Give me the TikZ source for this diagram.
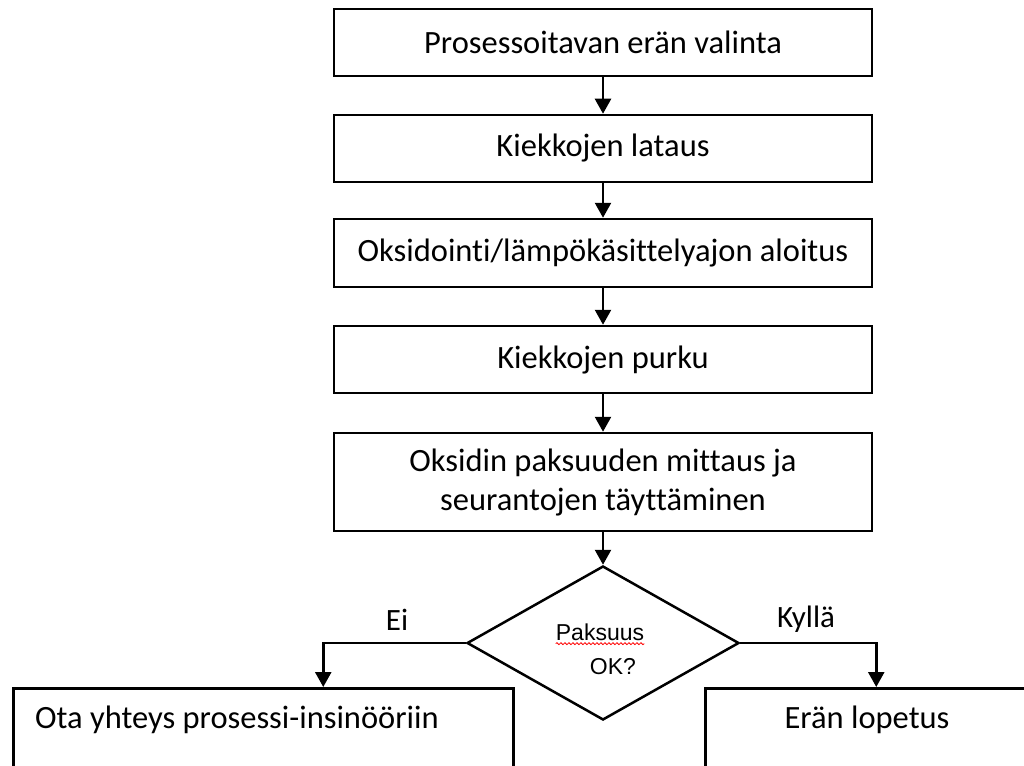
\documentclass[tikz,border=0pt]{standalone}
\usepackage{fontspec}
\setmainfont{Carlito}[Ligatures=NoCommon]
\newfontfamily\arialf{Liberation Sans}
\usetikzlibrary{arrows.meta,shapes.geometric,decorations.pathmorphing}
\begin{document}
\begin{tikzpicture}[x=1pt,y=-1pt,
  box/.style={draw,line width=2.5pt,minimum width=538pt,inner sep=0pt,font=\fontsize{32.5}{39}\selectfont,align=center},
  endbox/.style={draw,line width=2.5pt,anchor=north west,minimum height=140pt,inner sep=0pt},
  arr/.style={line width=2.5pt,-{Triangle[width=16pt,length=15pt]}},
  lbl/.style={font=\fontsize{31}{38}\selectfont,inner sep=0pt},
  txt/.style={font=\fontsize{32.5}{39}\selectfont,inner sep=0pt},
  dtxt/.style={font=\arialf\fontsize{23}{28}\selectfont,inner sep=0pt}]
\useasboundingbox (0,0) rectangle (1024,765);
\clip (0,0) rectangle (1024,765);
\node[box,minimum height=67pt] (b1) at (603,42.5) {Prosessoitavan erän valinta};
\node[box,minimum height=67pt] (b2) at (603,148.5) {Kiekkojen lataus};
\node[box,minimum height=68pt] (b3) at (603,253) {Oksidointi/lämpökäsittelyajon aloitus};
\node[box,minimum height=67pt] (b4) at (603,359.5) {Kiekkojen purku};
\node[box,minimum height=98pt] (b5) at (603,482) {Oksidin paksuuden mittaus ja\\seurantojen täyttäminen};
\node[diamond,draw,line width=2.5pt,minimum width=272pt,minimum height=154pt,inner sep=0pt] (d) at (603,643) {};
\node[dtxt] (pak) at (600,632) {Paksuus};
\node[dtxt] (ok) at (613,667) {OK?};
\draw[red,line width=0.8pt,decorate,decoration={snake,amplitude=1pt,segment length=4pt}]
  ([yshift=-3pt]pak.south west) -- ([yshift=-3pt]pak.south east);
\node[endbox,minimum width=500pt] (ota) at (12,687) {};
\node[txt,anchor=west] (otat) at (35,720) {Ota yhteys prosessi-insinööriin};
\node[endbox,minimum width=330pt] (loppu) at (704,687) {};
\node[txt] (loppt) at (867,720) {Erän lopetus};
\draw[arr] (b1) -- (b2);
\draw[arr] (b2) -- (b3);
\draw[arr] (b3) -- (b4);
\draw[arr] (b4) -- (b5);
\draw[arr] (b5) -- (d);
\draw[arr] (d.west) -| ([xshift=60pt]ota.north);
\draw[arr] (d.east) -| ([xshift=6pt]loppu.north);
\node[lbl] (ei) at (397,620) {Ei};
\node[lbl] (kylla) at (806,619) {Kyllä};
\end{tikzpicture}
\end{document}
